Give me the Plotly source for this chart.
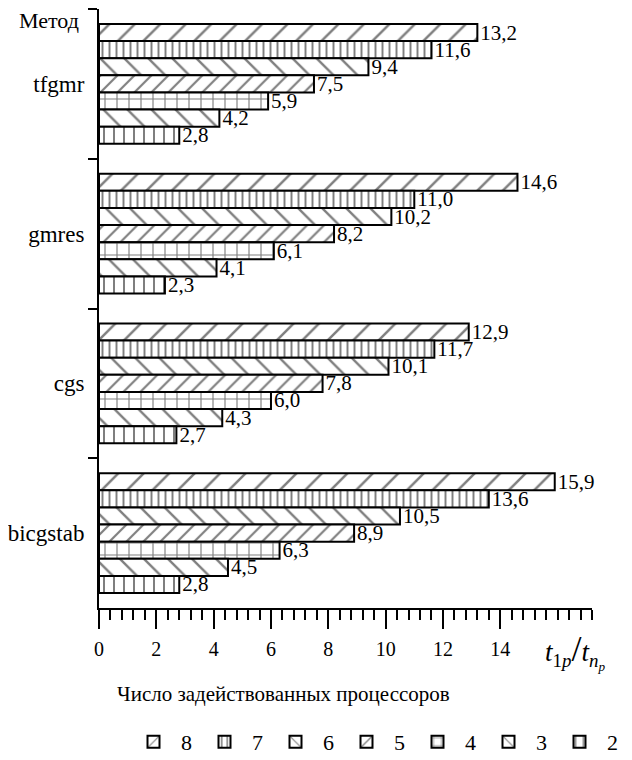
import plotly.graph_objects as go

methods = ["tfgmr", "gmres", "cgs", "bicgstab"]
procs = ["8", "7", "6", "5", "4", "3", "2"]
speedup = {
    "8": [13.2, 14.6, 12.9, 15.9],
    "7": [11.6, 11.0, 11.7, 13.6],
    "6": [9.4, 10.2, 10.1, 10.5],
    "5": [7.5, 8.2, 7.8, 8.9],
    "4": [5.9, 6.1, 6.0, 6.3],
    "3": [4.2, 4.1, 4.3, 4.5],
    "2": [2.8, 2.3, 2.7, 2.8],
}
x_ticks = [0, 2, 4, 6, 8, 10, 12, 14]

patterns = {
    "8": dict(shape="/", size=18, solidity=0.14),
    "7": dict(shape="|", size=7, solidity=0.28),
    "6": dict(shape="\\", size=17, solidity=0.14),
    "5": dict(shape="/", size=12, solidity=0.18),
    "4": dict(shape="+", size=12, solidity=0.18),
    "3": dict(shape="\\", size=17, solidity=0.14),
    "2": dict(shape="|", size=10, solidity=0.2),
}

FONT = "Liberation Serif"
OFF = 8  # page body margin
W, H = 632 - OFF, 760 - OFF
ML, MR, MT, MB = 99 - OFF, 40, 9 - OFF, 152
PW = W - ML - MR
PH = H - MT - MB

fig = go.Figure()
for p in procs:
    pat = patterns[p]
    fig.add_trace(go.Bar(
        y=methods, x=speedup[p], name=p, orientation="h",
        marker=dict(color="white",
                    line=dict(color="black", width=2),
                    pattern=dict(shape=pat["shape"], size=pat["size"], solidity=pat["solidity"],
                                 fgcolor="black", bgcolor="white", fillmode="overlay")),
        texttemplate="%{x:.1f}", textposition="outside",
        textfont=dict(family=FONT, size=21, color="black"),
        constraintext="none", cliponaxis=False,
    ))

def px_x(px):
    return (px - OFF - ML) / PW

def px_y(py):
    return 1 - (py - OFF - MT) / PH

fig.update_layout(
    width=W, height=H,
    margin=dict(l=ML, r=MR, t=MT, b=MB, autoexpand=False),
    paper_bgcolor="white", plot_bgcolor="white",
    barmode="group", bargap=0.2, bargroupgap=0,
    separators=", ",
    font=dict(family=FONT, size=20, color="black"),
    showlegend=True,
    legend=dict(orientation="h", xref="container", yref="container",
                x=(126 - OFF) / W, y=(760 - 742) / H, xanchor="left", yanchor="middle",
                font=dict(family=FONT, size=22, color="black"), traceorder="normal",
                itemwidth=45, bgcolor="rgba(0,0,0,0)"),
    xaxis=dict(range=[0, 17.2], showline=True, linecolor="black", linewidth=2,
               ticks="outside", ticklen=19, tickwidth=2, tickcolor="black",
               tickvals=x_ticks, ticktext=[str(v) for v in x_ticks],
               tickfont=dict(family=FONT, size=20, color="black"), automargin=False,
               ticklabelstandoff=3,
               minor=dict(ticks="outside", ticklen=10, tickwidth=2, tickcolor="black", dtick=0.4, tick0=0, showgrid=False),
               showgrid=False, zeroline=False),
    yaxis=dict(type="category", categoryorder="array", categoryarray=methods,
               autorange="reversed", showline=True, linecolor="black", linewidth=2,
               ticks="outside", tickson="boundaries", ticklen=9, tickwidth=2, tickcolor="black",
               tickfont=dict(family=FONT, size=23, color="black"), automargin=False,
               ticklabelstandoff=8,
               showgrid=False, zeroline=False),
    annotations=[
        dict(text="Метод", xref="paper", yref="paper", x=px_x(17), y=px_y(20),
             xanchor="left", yanchor="middle", showarrow=False,
             font=dict(family=FONT, size=22, color="black")),
        dict(text="Число задействованных процессоров", xref="paper", yref="paper",
             x=px_x(115), y=px_y(694), xanchor="left", yanchor="middle", showarrow=False,
             font=dict(family=FONT, size=21, color="black")),
        dict(text="<i>t</i><sub>1<i>p</i></sub><span style='font-size:36px'>/</span><i>t</i><sub><i>n<sub>p</sub></i></sub>",
             xref="paper", yref="paper", x=px_x(543), y=px_y(651),
             xanchor="left", yanchor="middle", showarrow=False,
             font=dict(family=FONT, size=27, color="black")),
    ],
)

fig.write_html("out.html")
